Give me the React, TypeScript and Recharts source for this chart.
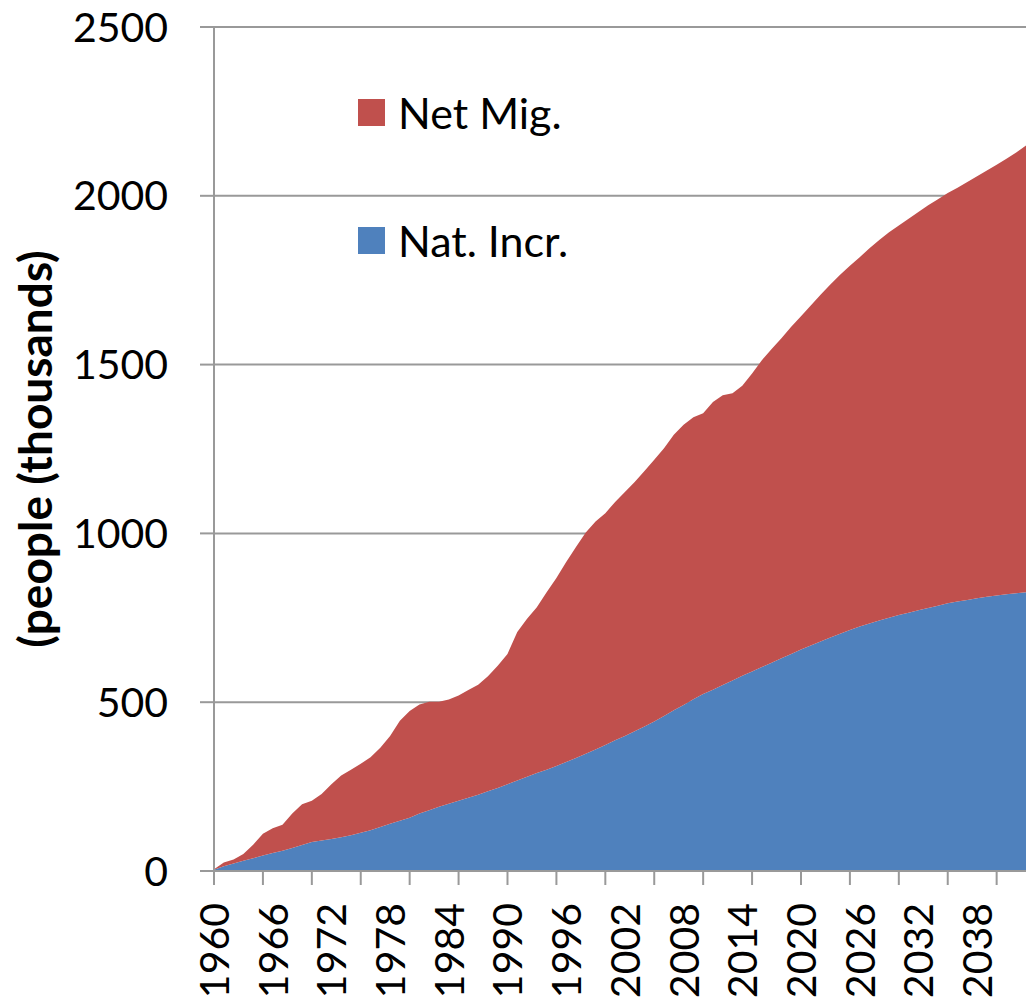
import {
  AreaChart,
  Area,
  XAxis,
  YAxis,
  CartesianGrid,
  Legend,
} from "recharts";

// Yearly components of population change (thousands), stacked:
// natural increase at the bottom, net migration on top.
const years = [
  1960, 1961, 1962, 1963, 1964, 1965, 1966, 1967, 1968, 1969,
  1970, 1971, 1972, 1973, 1974, 1975, 1976, 1977, 1978, 1979,
  1980, 1981, 1982, 1983, 1984, 1985, 1986, 1987, 1988, 1989,
  1990, 1991, 1992, 1993, 1994, 1995, 1996, 1997, 1998, 1999,
  2000, 2001, 2002, 2003, 2004, 2005, 2006, 2007, 2008, 2009,
  2010, 2011, 2012, 2013, 2014, 2015, 2016, 2017, 2018, 2019,
  2020, 2021, 2022, 2023, 2024, 2025, 2026, 2027, 2028, 2029,
  2030, 2031, 2032, 2033, 2034, 2035, 2036, 2037, 2038, 2039,
  2040, 2041, 2042, 2043,
];

const natIncr = [
  4, 14, 22, 30, 38, 46, 53, 60, 68, 77,
  86, 90, 95, 100, 106, 113, 121, 130, 140, 149,
  158, 170, 180, 190, 199, 208, 217, 226, 236, 246,
  257, 268, 279, 290, 300, 311, 323, 335, 347, 360,
  373, 387, 400, 414, 428, 443, 459, 476, 492, 509,
  524, 537, 551, 564, 578, 591, 604, 617, 630, 643,
  656, 668, 680, 692, 703, 714, 724, 733, 742, 750,
  758, 765, 772, 779, 786, 793, 798, 803, 808, 812,
  816, 820, 823, 826,
];

const netMig = [
  1, 11, 12, 20, 40, 64, 74, 77, 102, 121,
  122, 138, 162, 183, 194, 205, 216, 235, 260, 296,
  316, 323, 321, 311, 309, 312, 319, 326, 341, 362,
  386, 440, 468, 491, 526, 557, 592, 625, 656, 675,
  687, 706, 723, 738, 757, 775, 793, 816, 830, 835,
  832, 852, 858, 851, 859, 883, 909, 929, 948, 969,
  987, 1007, 1027, 1045, 1063, 1079, 1094, 1112, 1127, 1142,
  1154, 1167, 1180, 1193, 1204, 1215, 1226, 1238, 1250, 1263,
  1276, 1290, 1305, 1323,
];

// x labels every 6 years, tick marks every 5 (as in the original)
const xLabelYears = [1960, 1966, 1972, 1978, 1984, 1990, 1996, 2002, 2008, 2014, 2020, 2026, 2032, 2038];
const xMarkYears = [1960, 1965, 1970, 1975, 1980, 1985, 1990, 1995, 2000, 2005, 2010, 2015, 2020, 2025, 2030, 2035, 2040];
const yTicks = [0, 500, 1000, 1500, 2000, 2500];

const legendItems = [
  { name: "Net Mig.", color: "#C0504D" },
  { name: "Nat. Incr.", color: "#4F81BD" },
];

const data = years.map((year, i) => ({
  year,
  natIncr: natIncr[i],
  netMig: netMig[i],
}));

const FONT = "Lato, 'Open Sans', sans-serif";
const AXIS = "#999999";

function YearTick(props: any) {
  const { x, y, payload } = props;
  const year = Number(payload.value);
  return (
    <g>
      {xMarkYears.includes(year) && (
        <line x1={x} y1={y} x2={x} y2={y + 14} stroke={AXIS} strokeWidth={2} />
      )}
      {xLabelYears.includes(year) && (
        <text
          x={0}
          y={0}
          transform={`translate(${x + 15}, ${y + 32}) rotate(-90)`}
          textAnchor="end"
          fontSize={41}
          fontFamily={FONT}
          fill="#000"
        >
          {year}
        </text>
      )}
    </g>
  );
}

function LegendBox() {
  return (
    <div style={{ fontFamily: FONT, fontSize: 43, color: "#000" }}>
      {legendItems.map((item) => (
        <div
          key={item.name}
          style={{ display: "flex", alignItems: "center", height: 128, lineHeight: 1 }}
        >
          <span
            style={{
              display: "inline-block",
              width: 27,
              height: 27,
              background: item.color,
              marginRight: 13,
            }}
          />
          <span>{item.name}</span>
        </div>
      ))}
    </div>
  );
}

export default function App() {
  return (
    <div style={{ position: "absolute", left: 0, top: 0, background: "#fff" }}>
      <AreaChart
        width={1032}
        height={1001}
        data={data}
        margin={{ top: 27, right: 6, bottom: 0, left: 0 }}
      >
        <CartesianGrid vertical={false} stroke={AXIS} strokeWidth={2} />
        <XAxis
          dataKey="year"
          height={130}
          interval={0}
          tickLine={false}
          tickSize={0}
          tickMargin={0}
          axisLine={{ stroke: AXIS, strokeWidth: 2 }}
          tick={<YearTick />}
        />
        <YAxis
          width={214}
          domain={[0, 2500]}
          ticks={yTicks}
          interval={0}
          tickSize={14}
          tickMargin={32}
          tickLine={{ stroke: AXIS, strokeWidth: 2 }}
          axisLine={{ stroke: AXIS, strokeWidth: 2 }}
          tick={{ fontSize: 41, fontFamily: FONT, fill: "#000" }}
          label={{
            content: ({ viewBox }: any) => {
              const cy = viewBox.y + viewBox.height / 2;
              return (
                <text
                  x={52}
                  y={cy}
                  transform={`rotate(-90, 52, ${cy})`}
                  textAnchor="middle"
                  fontSize={46}
                  fontWeight="bold"
                  fontFamily={FONT}
                  fill="#000"
                >
                  (people (thousands)
                </text>
              );
            },
          }}
        />
        <Legend
          layout="vertical"
          align="center"
          verticalAlign="middle"
          content={<LegendBox />}
          wrapperStyle={{ left: 358, top: 48, width: 320 }}
        />
        <Area
          type="linear"
          dataKey="natIncr"
          name="Nat. Incr."
          stackId="pop"
          stroke="none"
          fill="#4F81BD"
          fillOpacity={1}
          isAnimationActive={false}
        />
        <Area
          type="linear"
          dataKey="netMig"
          name="Net Mig."
          stackId="pop"
          stroke="none"
          fill="#C0504D"
          fillOpacity={1}
          isAnimationActive={false}
        />
      </AreaChart>
    </div>
  );
}
